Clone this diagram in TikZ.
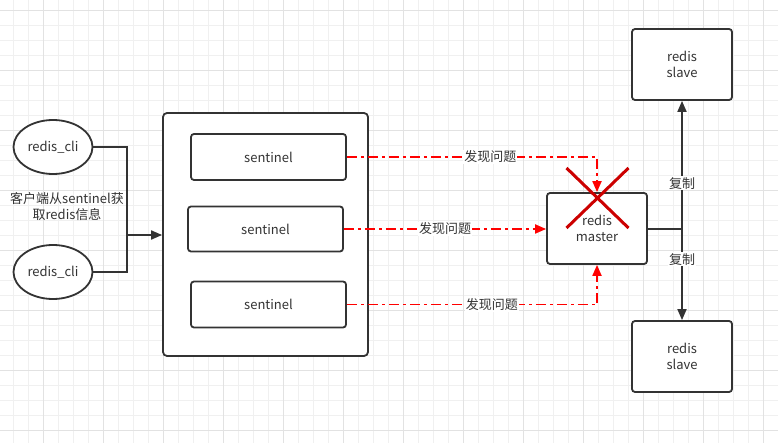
\documentclass[tikz,border=0pt]{standalone}
\usepackage{fontspec}
\newfontfamily\cjk{Noto Sans CJK SC}
\usetikzlibrary{arrows.meta,shapes.geometric}
\definecolor{ink}{HTML}{333333}
\definecolor{gridminor}{HTML}{F0F0F0}
\definecolor{gridmajor}{HTML}{E2E2E2}
\definecolor{alarm}{HTML}{FF0000}
\definecolor{crossred}{HTML}{CC0000}
\tikzset{
  box/.style={draw=ink, line width=1.8pt, rounded corners=3pt, fill=white,
    minimum width=#1, inner sep=0pt, font=\cjk\fontsize{13}{16}\selectfont,
    text=ink, align=center},
  box/.default=100pt,
  cli/.style={ellipse, draw=ink, line width=1.8pt, fill=white, minimum width=79pt,
    minimum height=54pt, inner sep=0pt, font=\cjk\fontsize{13}{16}\selectfont, text=ink},
  conn/.style={draw=ink, line width=1.8pt},
  blackarrow/.style={-{Triangle[length=11pt,width=9pt]}},
  alarmline/.style={draw=alarm, line width=1.9pt, dash pattern=on 10pt off 4pt on 3pt off 4pt,
    -{Triangle[length=11pt,width=9pt]}},
  elabel/.style={fill=white, inner sep=1pt, font=\cjk\fontsize{13}{16}\selectfont, text=ink},
}
\begin{document}
\begin{tikzpicture}[x=1pt,y=-1pt]
\useasboundingbox (0,0) rectangle (778,443);
\fill[white] (0,0) rectangle (778,443);
% grid
\foreach \i in {0,...,51} {\draw[gridminor, line width=1pt] ({13.5+15*\i},0) -- ({13.5+15*\i},443);}
\foreach \i in {0,...,29} {\draw[gridminor, line width=1pt] (0,{10.5+15*\i}) -- (778,{10.5+15*\i});}
\foreach \i in {0,...,12} {\draw[gridmajor, line width=1pt] ({43.5+60*\i},0) -- ({43.5+60*\i},443);}
\foreach \i in {0,...,7} {\draw[gridmajor, line width=1pt] (0,{10.5+60*\i}) -- (778,{10.5+60*\i});}

% clients
\node[cli] (c1) at (53,147) {redis\_cli};
\node[cli] (c2) at (53,272) {redis\_cli};
\node[font=\cjk\fontsize{13}{16}\selectfont, text=ink, align=center] (clabel) at (67,207) {客户端从sentinel获\\取redis信息};

% container
\node[box=205pt, minimum height=243pt, rounded corners=4pt] (cont) at (265.5,234.5) {};
\node[box=155pt, minimum height=46pt] (s1) at (268.5,157) {sentinel};
\node[box=155pt, minimum height=45pt] (s2) at (265.5,229) {sentinel};
\node[box=155pt, minimum height=46pt] (s3) at (268.5,304.5) {sentinel};

% junction
\coordinate (j) at (127,235);
\draw[conn] (c1.east) -| (j);
\draw[conn] (c2.east) -| (j);
\draw[conn, blackarrow] (j) -- (cont.west |- j);

% master and slaves
\node[box, minimum height=71pt] (m) at (597,228.5) {redis\\master};
\node[box, minimum height=71pt] (sl1) at (682,64.5) {redis\\slave};
\node[box, minimum height=71pt] (sl2) at (682,356.5) {redis\\slave};

% alarms
\draw[alarmline] (s1.east) -| node[elabel, pos=0.287] {发现问题} (m.north);
\draw[alarmline] (s2.east) -- node[elabel, pos=0.5] {发现问题} (s2.east -| m.west);
\draw[alarmline] (s3.east) -| node[elabel, pos=0.29] {发现问题} (m.south);

% replication
\coordinate (r) at (682,229);
\draw[conn] (m.east |- r) -- (r);
\draw[conn, blackarrow] (r) -- node[elabel, pos=0.357] {复制} (sl1.south);
\draw[conn, blackarrow] (r) -- node[elabel, pos=0.33] {复制} (sl2.north);

% red cross
\draw[crossred, line width=3pt] (566.5,168) -- (628.5,228);
\draw[crossred, line width=3pt] (628.5,168) -- (566.5,228);
\end{tikzpicture}
\end{document}
